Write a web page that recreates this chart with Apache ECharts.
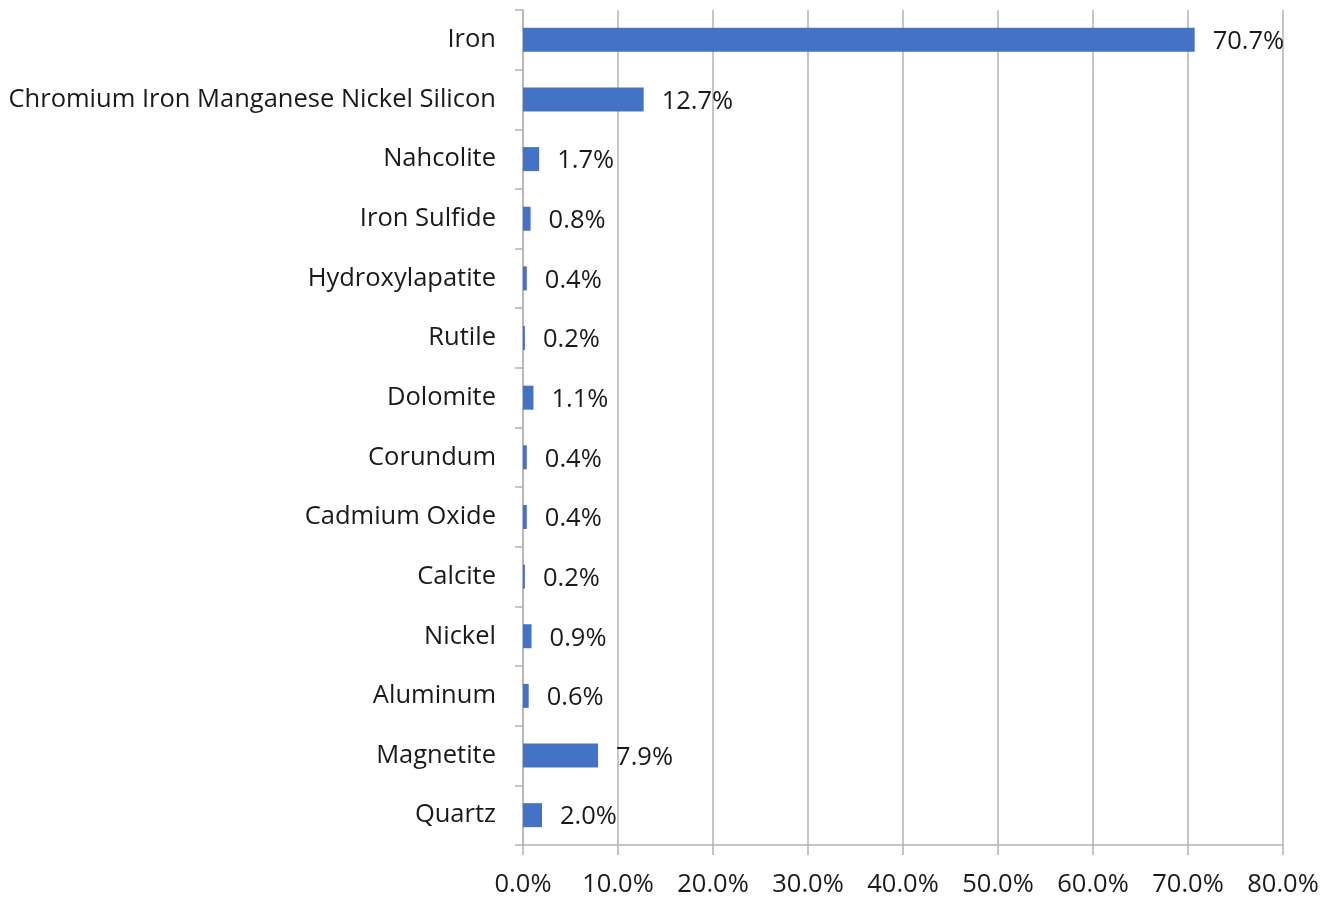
<!DOCTYPE html>
<html>
<head>
<meta charset="utf-8">
<script src="https://cdn.jsdelivr.net/npm/echarts@6/dist/echarts.min.js"></script>
<style>
  html, body { margin: 0; padding: 0; background: #fff; }
  #chart { width: 1327px; height: 898px; }
</style>
</head>
<body>
<div id="chart"></div>
<script>
const minerals = [
    'Iron', 'Chromium Iron Manganese Nickel Silicon', 'Nahcolite', 'Iron Sulfide',
    'Hydroxylapatite', 'Rutile', 'Dolomite', 'Corundum', 'Cadmium Oxide',
    'Calcite', 'Nickel', 'Aluminum', 'Magnetite', 'Quartz'
];
const shares = [70.7, 12.7, 1.7, 0.8, 0.4, 0.2, 1.1, 0.4, 0.4, 0.2, 0.9, 0.6, 7.9, 2.0];
const xTicks = [0, 10, 20, 30, 40, 50, 60, 70, 80];

const font = '"Open Sans", "Noto Sans", sans-serif';
const chart = echarts.init(document.getElementById('chart'));

chart.setOption({
    animation: false,
    grid: {
        left: 523,
        right: 44,
        top: 10,
        bottom: 52
    },
    xAxis: {
        type: 'value',
        min: xTicks[0],
        max: xTicks[xTicks.length - 1],
        interval: 10,
        axisLine: { show: true, lineStyle: { color: '#b3b3b3', width: 1.5 } },
        axisTick: { show: true, length: 10, lineStyle: { color: '#b3b3b3', width: 1.5 } },
        splitLine: { show: true, lineStyle: { color: '#b3b3b3', width: 1.5 } },
        axisLabel: {
            margin: 27,
            fontSize: 25.5,
            fontFamily: font,
            color: '#1a1a1a',
            formatter: (v) => v.toFixed(1) + '%'
        }
    },
    yAxis: {
        type: 'category',
        inverse: true,
        data: minerals,
        axisLine: { show: true, lineStyle: { color: '#b3b3b3', width: 1.5 } },
        axisTick: { show: true, length: 8, lineStyle: { color: '#b3b3b3', width: 1.5 } },
        axisLabel: {
            margin: 27,
            fontSize: 25.5,
            padding: [4, 0, 0, 0],
            fontFamily: font,
            color: '#1a1a1a'
        }
    },
    series: [{
        type: 'bar',
        data: shares,
        barWidth: 24,
        itemStyle: { color: '#4472c4' },
        label: {
            show: true,
            position: 'right',
            distance: 18,
            offset: [0, 2],
            fontSize: 25.5,
            fontFamily: font,
            color: '#1a1a1a',
            formatter: (p) => p.value.toFixed(1) + '%'
        }
    }]
});
</script>
</body>
</html>
